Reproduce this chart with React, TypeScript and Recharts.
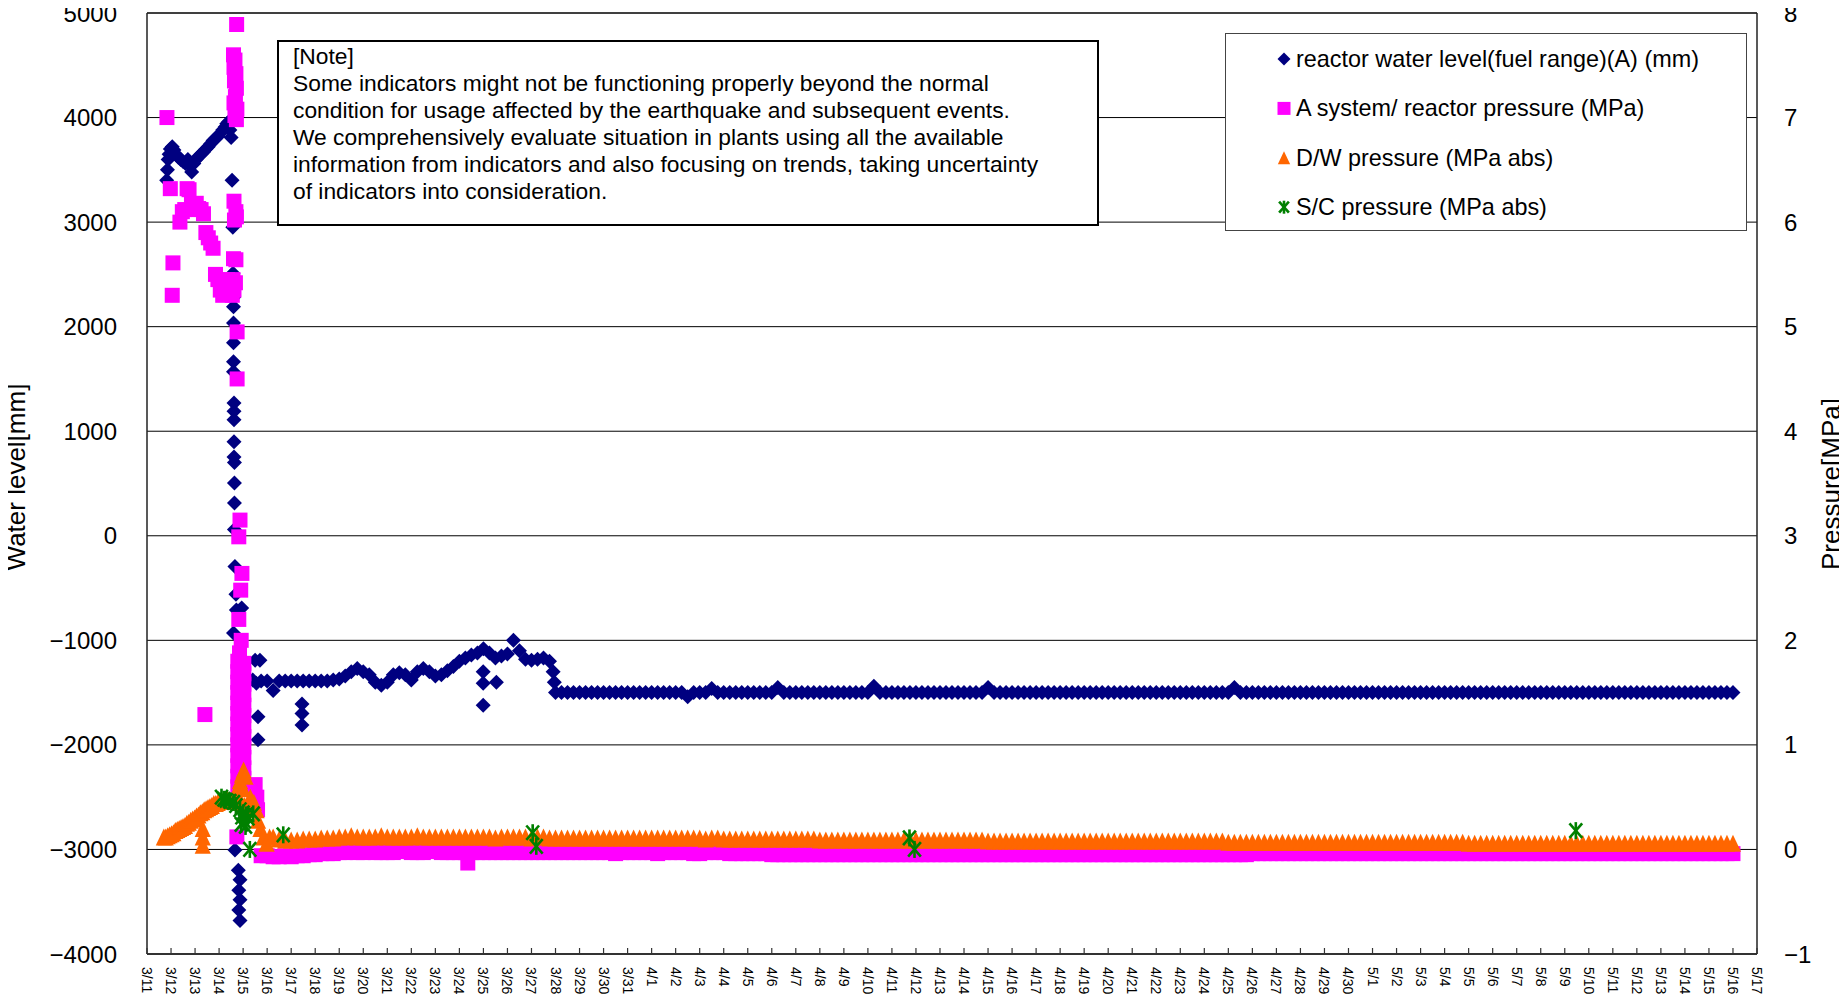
import React from 'react';
import { ScatterChart, Scatter, XAxis, YAxis, CartesianGrid, ReferenceLine, Legend } from 'recharts';

// ---------- categories / tick labels ----------
const dateLabels = [
  '3/11', '3/12', '3/13', '3/14', '3/15', '3/16', '3/17', '3/18', '3/19', '3/20', '3/21',
  '3/22', '3/23', '3/24', '3/25', '3/26', '3/27', '3/28', '3/29', '3/30', '3/31',
  '4/1', '4/2', '4/3', '4/4', '4/5', '4/6', '4/7', '4/8', '4/9', '4/10',
  '4/11', '4/12', '4/13', '4/14', '4/15', '4/16', '4/17', '4/18', '4/19', '4/20',
  '4/21', '4/22', '4/23', '4/24', '4/25', '4/26', '4/27', '4/28', '4/29', '4/30',
  '5/1', '5/2', '5/3', '5/4', '5/5', '5/6', '5/7', '5/8', '5/9', '5/10',
  '5/11', '5/12', '5/13', '5/14', '5/15', '5/16', '5/17',
];
const levelTicks = [-4000, -3000, -2000, -1000, 0, 1000, 2000, 3000, 4000, 5000];
const pressureTicks = [-1, 0, 1, 2, 3, 4, 5, 6, 7, 8];

const seriesNames = [
  'reactor water level(fuel range)(A) (mm)',
  'A system/ reactor pressure (MPa)',
  'D/W pressure (MPa abs)',
  'S/C pressure (MPa abs)',
];

const noteLines = [
  '[Note]',
  'Some indicators might not be functioning properly beyond the normal',
  'condition for usage affected by the earthquake and subsequent events.',
  'We comprehensively evaluate situation in plants using all the available',
  'information from indicators and also focusing on trends, taking uncertainty',
  'of indicators into consideration.',
];

// ---------- data: x = days after 3/11 0:00 ----------
// reactor water level (mm), irregular readings
const waterLevelSpot: [number, number][] = [
  [0.82, 3400], [0.85, 3500], [0.88, 3600], [0.92, 3650], [0.97, 3700], [1.05, 3720], [1.12, 3690],
  [1.2, 3650], [1.3, 3620], [1.4, 3600], [1.5, 3580], [1.6, 3560], [1.7, 3600], [1.8, 3540], [1.86, 3480],
  [1.95, 3560], [2.05, 3600], [2.15, 3630], [2.25, 3650], [2.35, 3670], [2.45, 3700], [2.55, 3720],
  [2.65, 3750], [2.75, 3780], [2.85, 3800], [2.95, 3820], [3.05, 3850], [3.15, 3880], [3.25, 3910],
  [3.32, 3940], [3.4, 3960], [3.45, 3880], [3.5, 3810],
  [3.54, 3400], [3.57, 2950], [3.58, 2510], [3.6, 2380], [3.6, 2280], [3.6, 2190], [3.6, 2035], [3.6, 1845],
  [3.6, 1665], [3.6, 1570], [3.62, 1270], [3.62, 1190], [3.62, 1110], [3.62, 900], [3.62, 753], [3.64, 700],
  [3.64, 505], [3.64, 314], [3.64, 60], [3.66, -295], [3.7, -560], [3.72, -710], [3.6, -930], [3.94, -690],
  [3.66, -3005], [3.8, -3200], [3.87, -3290], [3.82, -3390], [3.87, -3480], [3.82, -3580], [3.87, -3680],
  [4.4, -1380], [4.5, -1190], [4.7, -1190], [4.55, -1410], [4.62, -1730], [4.62, -1950],
  [6.45, -1610], [6.45, -1700], [6.45, -1810], [13.99, -1300], [13.99, -1410], [13.99, -1620],
  [14.54, -1400], [16.9, -1300], [16.95, -1400],
];
// routine readings: one row per day, readings at 0h, 6h, 12h, 18h
const waterLevelDailyStart = 4;
const waterLevelDaily: (number | null)[][] = [
  [null, null, null, -1390],
  [-1390, -1480, -1390, -1390], [-1390, -1390, -1390, -1390], [-1390, -1390, -1390, -1380],
  [-1370, -1340, -1300, -1270], [-1300, -1330, -1400, -1430], [-1400, -1330, -1310, -1330],
  [-1380, -1300, -1270, -1300], [-1340, -1330, -1290, -1250], [-1200, -1170, -1140, -1120],
  [-1080, -1120, -1170, -1150], [-1130, -1000, -1100, -1180], [-1190, -1180, -1170, -1200],
  [-1500, -1500, -1500, -1500], [-1500, -1500, -1500, -1500], [-1500, -1500, -1500, -1500],
  [-1500, -1500, -1500, -1500], [-1500, -1500, -1500, -1500], [-1500, -1500, -1540, -1500],
  [-1500, -1500, -1460, -1500], [-1500, -1500, -1500, -1500], [-1500, -1500, -1500, -1500],
  [-1500, -1450, -1500, -1500], [-1500, -1500, -1500, -1500], [-1500, -1500, -1500, -1500],
  [-1500, -1500, -1500, -1500], [-1500, -1440, -1500, -1500], [-1500, -1500, -1500, -1500],
  [-1500, -1500, -1500, -1500], [-1500, -1500, -1500, -1500], [-1500, -1500, -1500, -1500],
  [-1450, -1500, -1500, -1500], [-1500, -1500, -1500, -1500], [-1500, -1500, -1500, -1500],
  [-1500, -1500, -1500, -1500], [-1500, -1500, -1500, -1500], [-1500, -1500, -1500, -1500],
  [-1500, -1500, -1500, -1500], [-1500, -1500, -1500, -1500], [-1500, -1500, -1500, -1500],
  [-1500, -1500, -1500, -1500], [-1500, -1450, -1500, -1500], [-1500, -1500, -1500, -1500],
  [-1500, -1500, -1500, -1500], [-1500, -1500, -1500, -1500], [-1500, -1500, -1500, -1500],
  [-1500, -1500, -1500, -1500], [-1500, -1500, -1500, -1500], [-1500, -1500, -1500, -1500],
  [-1500, -1500, -1500, -1500], [-1500, -1500, -1500, -1500], [-1500, -1500, -1500, -1500],
  [-1500, -1500, -1500, -1500], [-1500, -1500, -1500, -1500], [-1500, -1500, -1500, -1500],
  [-1500, -1500, -1500, -1500], [-1500, -1500, -1500, -1500], [-1500, -1500, -1500, -1500],
  [-1500, -1500, -1500, -1500], [-1500, -1500, -1500, -1500], [-1500, -1500, -1500, -1500],
  [-1500, -1500, -1500, -1500],
  [-1500, null, null, null],
];

// A system reactor pressure (MPa)
const reactorPressureSpot: [number, number][] = [
  [0.83, 7.0], [0.97, 6.32], [1.05, 5.3], [1.08, 5.61], [1.37, 6.0], [1.47, 6.1], [1.57, 6.12],
  [1.67, 6.32], [1.75, 6.31], [1.85, 6.17], [1.95, 6.12], [2.05, 6.18], [2.15, 6.13], [2.25, 6.12],
  [2.35, 6.08], [2.41, 1.29], [2.45, 5.9], [2.55, 5.85], [2.65, 5.8], [2.75, 5.75], [2.85, 5.5],
  [2.95, 5.45], [3.05, 5.35], [3.15, 5.3], [3.25, 5.35], [3.35, 5.45], [3.45, 5.4], [3.55, 5.3],
  [3.73, 7.89], [3.6, 7.6], [3.66, 7.55], [3.62, 7.48], [3.7, 7.42], [3.64, 7.35], [3.72, 7.28],
  [3.68, 7.2], [3.62, 7.14], [3.74, 7.08], [3.66, 7.02], [3.72, 6.98],
  [3.62, 6.2], [3.7, 6.1], [3.64, 6.02], [3.72, 6.05], [3.6, 5.65], [3.7, 5.64], [3.58, 5.45],
  [3.68, 5.42], [3.62, 5.35], [3.75, 4.95], [3.75, 4.5],
  [3.87, 3.15], [3.82, 2.99], [3.95, 2.64], [3.9, 2.48], [3.82, 2.2], [3.92, 2.0], [3.85, 1.88],
  [3.78, 1.8], [3.78, 1.7], [3.78, 1.6], [3.78, 1.5], [3.78, 1.4], [3.78, 1.3], [3.78, 1.2],
  [3.78, 1.1], [3.78, 1.0], [3.78, 0.9], [3.78, 0.8], [3.78, 0.7], [3.78, 0.6],
  [4.03, 1.78], [4.03, 1.68], [4.03, 1.58], [4.03, 1.48], [4.03, 1.38], [4.03, 1.28], [4.03, 1.18],
  [4.03, 1.08], [4.03, 0.98], [4.03, 0.88], [4.03, 0.78], [4.03, 0.68], [4.03, 0.58],
  [3.74, 0.12], [4.5, 0.62], [4.57, 0.5], [4.6, 0.38], [4.55, 0.44], [13.35, -0.13],
];
const reactorPressureDailyStart = 4;
const reactorPressureDaily: (number | null)[][] = [
  [null, null, null, -0.06],
  [-0.06, -0.07, -0.07, -0.06], [-0.07, -0.06, -0.06, -0.05], [-0.05, -0.04, -0.04, -0.04],
  [-0.03, -0.03, -0.02, -0.03], [-0.03, -0.02, -0.03, -0.03], [-0.03, -0.03, -0.02, -0.02],
  [-0.03, -0.03, -0.03, -0.02], [-0.02, -0.03, -0.03, -0.03], [-0.03, -0.03, -0.03, -0.03],
  [-0.03, -0.03, -0.03, -0.03], [-0.03, -0.03, -0.03, -0.03], [-0.03, -0.03, -0.03, -0.03],
  [-0.03, -0.03, -0.03, -0.03], [-0.03, -0.03, -0.03, -0.03], [-0.03, -0.03, -0.04, -0.03],
  [-0.03, -0.03, -0.03, -0.03], [-0.03, -0.04, -0.03, -0.03], [-0.03, -0.03, -0.03, -0.04],
  [-0.04, -0.03, -0.03, -0.03], [-0.03, -0.04, -0.04, -0.04], [-0.04, -0.04, -0.04, -0.04],
  [-0.05, -0.05, -0.05, -0.05], [-0.05, -0.05, -0.05, -0.05], [-0.05, -0.05, -0.05, -0.05],
  [-0.05, -0.05, -0.05, -0.05], [-0.05, -0.05, -0.05, -0.05], [-0.05, -0.05, -0.05, -0.05],
  [-0.05, -0.05, -0.05, -0.05], [-0.05, -0.05, -0.05, -0.05], [-0.05, -0.05, -0.05, -0.05],
  [-0.05, -0.05, -0.05, -0.05], [-0.05, -0.05, -0.05, -0.05], [-0.05, -0.05, -0.05, -0.05],
  [-0.05, -0.05, -0.05, -0.05], [-0.05, -0.05, -0.05, -0.05], [-0.05, -0.05, -0.05, -0.05],
  [-0.05, -0.05, -0.05, -0.05], [-0.05, -0.05, -0.05, -0.05], [-0.05, -0.05, -0.05, -0.05],
  [-0.05, -0.05, -0.05, -0.05], [-0.05, -0.05, -0.05, -0.05], [-0.04, -0.04, -0.04, -0.04],
  [-0.04, -0.04, -0.04, -0.04], [-0.04, -0.04, -0.04, -0.04], [-0.04, -0.04, -0.04, -0.04],
  [-0.04, -0.04, -0.04, -0.04], [-0.04, -0.04, -0.04, -0.04], [-0.04, -0.04, -0.04, -0.04],
  [-0.04, -0.04, -0.04, -0.04], [-0.04, -0.04, -0.04, -0.04], [-0.04, -0.04, -0.04, -0.04],
  [-0.04, -0.04, -0.04, -0.04], [-0.04, -0.04, -0.04, -0.04], [-0.04, -0.04, -0.04, -0.04],
  [-0.04, -0.04, -0.04, -0.04], [-0.04, -0.04, -0.04, -0.04], [-0.04, -0.04, -0.04, -0.04],
  [-0.04, -0.04, -0.04, -0.04], [-0.04, -0.04, -0.04, -0.04], [-0.04, -0.04, -0.04, -0.04],
  [-0.04, -0.04, -0.04, -0.04],
  [-0.04, null, null, null],
];

// D/W pressure (MPa abs)
const dwPressureSpot: [number, number][] = [
  [0.7, 0.12], [0.78, 0.12], [0.86, 0.13], [0.94, 0.14], [1.02, 0.15], [1.1, 0.16], [1.18, 0.18],
  [1.26, 0.19], [1.34, 0.2], [1.42, 0.21], [1.5, 0.22], [1.58, 0.23], [1.66, 0.25], [1.74, 0.26],
  [1.82, 0.28], [1.9, 0.29], [1.98, 0.3], [2.06, 0.32], [2.14, 0.33], [2.22, 0.35], [2.3, 0.36],
  [2.38, 0.38], [2.46, 0.39], [2.54, 0.4], [2.62, 0.41], [2.7, 0.42], [2.78, 0.44], [2.86, 0.44],
  [2.94, 0.45], [3.02, 0.46], [3.1, 0.46], [3.18, 0.47], [3.26, 0.47], [3.34, 0.48], [3.42, 0.47],
  [3.5, 0.46], [2.32, 0.2], [2.32, 0.12], [2.32, 0.04],
  [3.7, 0.5], [3.8, 0.6], [3.87, 0.66], [3.95, 0.72], [4.02, 0.76], [4.1, 0.7], [4.0, 0.58],
  [3.92, 0.45], [4.05, 0.42], [4.3, 0.5], [4.45, 0.45], [4.56, 0.38], [4.62, 0.28], [4.72, 0.2],
  [4.85, 0.12], [4.98, 0.06], [5.1, 0.12],
];
const dwPressureDailyStart = 5;
const dwPressureDaily: (number | null)[][] = [
  [null, 0.12, 0.1, 0.09],
  [0.09, 0.09, 0.1, 0.1], [0.1, 0.11, 0.11, 0.11], [0.12, 0.12, 0.13, 0.12],
  [0.12, 0.12, 0.12, 0.13], [0.12, 0.12, 0.12, 0.12], [0.12, 0.13, 0.12, 0.12],
  [0.12, 0.12, 0.12, 0.12], [0.12, 0.12, 0.12, 0.12], [0.12, 0.12, 0.11, 0.12],
  [0.12, 0.12, 0.12, 0.12], [0.11, 0.12, 0.12, 0.11], [0.11, 0.11, 0.11, 0.11],
  [0.11, 0.11, 0.11, 0.11], [0.11, 0.11, 0.11, 0.11], [0.11, 0.11, 0.11, 0.11],
  [0.11, 0.11, 0.11, 0.11], [0.11, 0.11, 0.11, 0.11], [0.11, 0.1, 0.11, 0.11],
  [0.1, 0.1, 0.1, 0.1], [0.1, 0.1, 0.1, 0.1], [0.1, 0.1, 0.1, 0.1],
  [0.1, 0.1, 0.1, 0.1], [0.09, 0.09, 0.09, 0.09], [0.09, 0.09, 0.09, 0.09],
  [0.09, 0.09, 0.09, 0.09], [0.09, 0.09, 0.09, 0.09], [0.09, 0.09, 0.09, 0.09],
  [0.09, 0.09, 0.09, 0.09], [0.09, 0.09, 0.09, 0.09], [0.08, 0.08, 0.08, 0.08],
  [0.08, 0.08, 0.08, 0.08], [0.08, 0.08, 0.08, 0.08], [0.08, 0.08, 0.08, 0.08],
  [0.08, 0.08, 0.08, 0.08], [0.08, 0.08, 0.08, 0.08], [0.08, 0.08, 0.08, 0.08],
  [0.08, 0.08, 0.08, 0.08], [0.08, 0.08, 0.08, 0.08], [0.08, 0.08, 0.08, 0.08],
  [0.07, 0.07, 0.07, 0.07], [0.07, 0.07, 0.07, 0.07], [0.07, 0.07, 0.07, 0.07],
  [0.07, 0.07, 0.07, 0.07], [0.07, 0.07, 0.07, 0.07], [0.07, 0.07, 0.07, 0.07],
  [0.07, 0.07, 0.07, 0.07], [0.07, 0.07, 0.07, 0.07], [0.07, 0.07, 0.07, 0.07],
  [0.07, 0.07, 0.07, 0.07], [0.06, 0.06, 0.06, 0.06], [0.06, 0.06, 0.06, 0.06],
  [0.06, 0.06, 0.06, 0.06], [0.06, 0.06, 0.06, 0.06], [0.06, 0.06, 0.06, 0.06],
  [0.06, 0.06, 0.06, 0.06], [0.06, 0.06, 0.06, 0.06], [0.06, 0.06, 0.06, 0.06],
  [0.06, 0.06, 0.06, 0.06], [0.06, 0.06, 0.06, 0.06], [0.06, 0.06, 0.06, 0.06],
  [0.06, null, null, null],
];

// S/C pressure (MPa abs)
const scPressureSpot: [number, number][] = [
  [3.1, 0.5], [3.2, 0.48], [3.3, 0.47], [3.45, 0.46], [3.6, 0.45], [3.7, 0.42], [3.87, 0.38],
  [3.95, 0.31], [4.0, 0.35], [4.05, 0.27], [3.92, 0.24], [4.12, 0.33], [4.2, 0.3], [4.1, 0.22],
  [4.42, 0.34], [4.28, 0.0], [5.67, 0.14], [16.05, 0.16], [16.2, 0.03], [31.73, 0.11], [31.94, 0.0],
  [59.46, 0.18],
];

// ---------- build rows for the library ----------
type Pt = { x: number; y: number };
const fromSpot = (s: [number, number][]): Pt[] => s.map(([x, y]) => ({ x, y }));
const fromDaily = (start: number, rows: (number | null)[][]): Pt[] => {
  const out: Pt[] = [];
  rows.forEach((row, d) => {
    row.forEach((v, slot) => {
      if (v !== null) out.push({ x: start + d + slot * 0.25, y: v });
    });
  });
  return out;
};

const waterLevelData = [...fromSpot(waterLevelSpot), ...fromDaily(waterLevelDailyStart, waterLevelDaily)];
const reactorPressureData = [...fromSpot(reactorPressureSpot), ...fromDaily(reactorPressureDailyStart, reactorPressureDaily)];
const dwPressureData = [...fromSpot(dwPressureSpot), ...fromDaily(dwPressureDailyStart, dwPressureDaily)];
const scPressureData = fromSpot(scPressureSpot);
const tickDays = dateLabels.map((_, i) => i);

// ---------- styles ----------
const FONT = '"Liberation Sans", Arial, "Noto Sans CJK JP", sans-serif';
const NAVY = '#000080';
const MAGENTA = '#FF00FF';
const ORANGE = '#FF6600';
const GREEN = '#008000';

const Diamond = ({ cx, cy, r = 7.5 }: any) => (
  <polygon points={`${cx},${cy - r} ${cx + r},${cy} ${cx},${cy + r} ${cx - r},${cy}`} fill={NAVY} />
);
const Square = ({ cx, cy, r = 7.5 }: any) => (
  <rect x={cx - r} y={cy - r} width={r * 2} height={r * 2} fill={MAGENTA} />
);
const Triangle = ({ cx, cy, r = 8.5 }: any) => (
  <polygon points={`${cx},${cy - r} ${cx + r * 0.95},${cy + r} ${cx - r * 0.95},${cy + r}`} fill={ORANGE} />
);
const Asterisk = ({ cx, cy, r = 8.5 }: any) => (
  <g stroke={GREEN} strokeWidth={2.6}>
    <line x1={cx} y1={cy - r} x2={cx} y2={cy + r} />
    <line x1={cx - r * 0.75} y1={cy - r * 0.85} x2={cx + r * 0.75} y2={cy + r * 0.85} />
    <line x1={cx - r * 0.75} y1={cy + r * 0.85} x2={cx + r * 0.75} y2={cy - r * 0.85} />
  </g>
);

const DateTick = (props: any) => {
  const { x, y, payload } = props;
  return (
    <g>
      <line x1={x} y1={y} x2={x} y2={y - 6} stroke="#333" strokeWidth={1.2} />
      <text
        transform={`translate(${x},${y + 13}) rotate(90)`}
        textAnchor="start"
        dominantBaseline="central"
        fontSize={14}
        fill="#000"
        fontFamily={FONT}
      >
        {dateLabels[payload.value]}
      </text>
    </g>
  );
};

const AxisTitle = ({ px, py, text }: any) => (
  <text
    transform={`translate(${px},${py}) rotate(-90)`}
    textAnchor="middle"
    dominantBaseline="central"
    fontSize={26}
    fill="#000"
    fontFamily={FONT}
  >
    {text}
  </text>
);

const fmtMinus = (v: number) => (v < 0 ? `\u2212${Math.abs(v)}` : `${v}`);

const legendMarkers = [Diamond, Square, Triangle, Asterisk];
const LegendBox = () => (
  <svg width={522} height={198} style={{ display: 'block' }}>
    <rect x={0.5} y={0.5} width={521} height={197} fill="#fff" stroke="#444" strokeWidth={1} />
    {seriesNames.map((name, i) => {
      const M = legendMarkers[i];
      const cy = 26 + i * 49.4;
      return (
        <g key={name}>
          <M cx={59} cy={cy} r={6.5} />
          <text x={71} y={cy} dominantBaseline="central" fontSize={23.4} fill="#000" fontFamily={FONT}>
            {name}
          </text>
        </g>
      );
    })}
  </svg>
);

export default function App() {
  return (
    <div
      style={{
        position: 'relative',
        width: 1847,
        height: 1002,
        margin: '-8px 0 0 -8px',
        fontFamily: FONT,
        background: '#fff',
        overflow: 'hidden',
      }}
    >
      <ScatterChart width={1847} height={1002} margin={{ top: 13, right: 0, bottom: 0, left: 0 }}>
        <CartesianGrid yAxisId="left" vertical={false} stroke="#000" strokeWidth={1} />
        <XAxis
          type="number"
          dataKey="x"
          domain={[0, 67]}
          ticks={tickDays}
          interval={0}
          height={48}
          tickSize={0}
          tickMargin={0}
          tick={<DateTick />}
          tickLine={false}
          axisLine={{ stroke: '#333', strokeWidth: 2 }}
        />
        <YAxis
          yAxisId="left"
          type="number"
          dataKey="y"
          domain={[-4000, 5000]}
          ticks={levelTicks}
          interval={0}
          width={147}
          tickSize={0}
          tickMargin={30}
          tickLine={false}
          tickFormatter={fmtMinus}
          tick={{ fontSize: 24, fill: '#000', fontFamily: FONT }}
          axisLine={{ stroke: '#222', strokeWidth: 1.5 }}
          label={<AxisTitle px={16} py={477} text="Water level[mm]" />}
        />
        <YAxis
          yAxisId="right"
          orientation="right"
          type="number"
          dataKey="y"
          domain={[-1, 8]}
          ticks={pressureTicks}
          interval={0}
          width={90}
          tickSize={0}
          tickMargin={27}
          tickLine={false}
          tickFormatter={fmtMinus}
          tick={{ fontSize: 24, fill: '#000', fontFamily: FONT }}
          axisLine={{ stroke: '#222', strokeWidth: 1.5 }}
          label={<AxisTitle px={1831} py={484} text="Pressure[MPa]" />}
        />
        <ReferenceLine yAxisId="left" y={5000} stroke="#000" strokeWidth={1} />
        <Scatter
          name={seriesNames[0]}
          data={waterLevelData}
          yAxisId="left"
          isAnimationActive={false}
          shape={(p: any) => <Diamond cx={p.cx} cy={p.cy} />}
        />
        <Scatter
          name={seriesNames[1]}
          data={reactorPressureData}
          yAxisId="right"
          isAnimationActive={false}
          shape={(p: any) => <Square cx={p.cx} cy={p.cy} />}
        />
        <Scatter
          name={seriesNames[2]}
          data={dwPressureData}
          yAxisId="right"
          isAnimationActive={false}
          shape={(p: any) => <Triangle cx={p.cx} cy={p.cy} />}
        />
        <Scatter
          name={seriesNames[3]}
          data={scPressureData}
          yAxisId="right"
          isAnimationActive={false}
          shape={(p: any) => <Asterisk cx={p.cx} cy={p.cy} />}
        />
        <Legend
          layout="horizontal"
          verticalAlign="middle"
          align="center"
          content={<LegendBox />}
          wrapperStyle={{ position: 'absolute', left: 1225, top: 33, width: 522, height: 198 }}
        />
      </ScatterChart>
      <div
        style={{
          position: 'absolute',
          left: 277,
          top: 40,
          width: 822,
          height: 186,
          boxSizing: 'border-box',
          border: '2px solid #000',
          background: '#fff',
          padding: '1px 0 0 14px',
          fontSize: 22.8,
          lineHeight: '27px',
          whiteSpace: 'pre',
          color: '#000',
          fontFamily: FONT,
        }}
      >
        {noteLines.map((l) => (
          <div key={l}>{l}</div>
        ))}
      </div>
    </div>
  );
}
